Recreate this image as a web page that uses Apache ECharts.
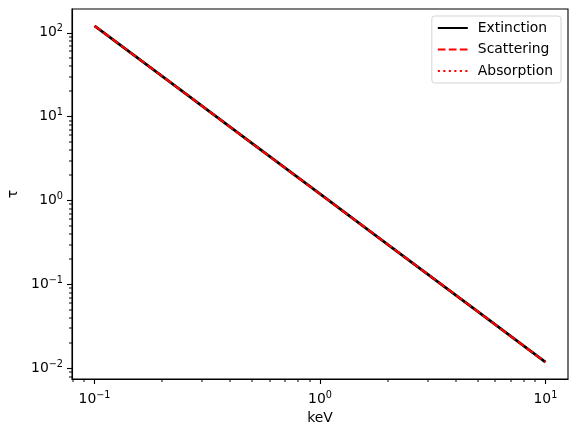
<!DOCTYPE html>
<html>
<head>
<meta charset="utf-8">
<script src="https://cdn.jsdelivr.net/npm/echarts@6/dist/echarts.min.js"></script>
<style>
  html, body { margin: 0; padding: 0; background: #fff; }
  #main { width: 578px; height: 435px; }
</style>
</head>
<body>
<div id="main"></div>
<script>
// values (tau vs photon energy)
var energy = [0.1, 0.2, 0.5, 1, 2, 5, 10];
var extinction = [121, 30.3, 4.8, 1.2, 0.3, 0.048, 0.0119];
var scattering = [121, 30.3, 4.8, 1.2, 0.3, 0.048, 0.0119];
var absorption = []; // not visible on the plot

var xMajor = [0.1, 1, 10];
var xMinor = [0.08, 0.09, 0.2, 0.3, 0.4, 0.5, 0.6, 0.7, 0.8, 0.9, 2, 3, 4, 5, 6, 7, 8, 9];
var yMajor = [0.01, 0.1, 1, 10, 100];
var yMinor = [0.008, 0.009,
  0.02, 0.03, 0.04, 0.05, 0.06, 0.07, 0.08, 0.09,
  0.2, 0.3, 0.4, 0.5, 0.6, 0.7, 0.8, 0.9,
  2, 3, 4, 5, 6, 7, 8, 9,
  20, 30, 40, 50, 60, 70, 80, 90];

var xRange = [Math.pow(10, -1.1), Math.pow(10, 1.1)];
var yRange = [Math.pow(10, -2.125), Math.pow(10, 2.283)];

var font = 'DejaVu Sans';
var fs = 13.9;

function pow10Label(v) {
  var e = Math.round(Math.log10(v));
  return '{b|10}{s|' + (e < 0 ? '\u2212' : '') + Math.abs(e) + '}';
}
var rich = {
  b: { fontSize: fs, fontFamily: font, color: '#000' },
  s: { fontSize: 9.7, fontFamily: font, color: '#000', padding: [0, 0, 8, 0] }
};

function pair(xs, ys) {
  return xs.map(function (x, i) { return [x, ys[i]]; });
}

// minor ticks: small outward marks placed through the axis scales
function minorTicks(onX) {
  return function (params, api) {
    var rect = params.coordSys;
    var p = api.coord([api.value(0), api.value(1)]);
    var shape;
    if (onX) {
      shape = { x: Math.round(p[0]) - 0.5, y: rect.y + rect.height, width: 1, height: 3 };
    } else {
      shape = { x: rect.x - 3, y: Math.round(p[1]) - 0.5, width: 3, height: 1 };
    }
    return { type: 'rect', shape: shape, style: { fill: '#000' } };
  };
}

var myChart = echarts.init(document.getElementById('main'));

var option = {
  animation: false,
  backgroundColor: '#fff',
  grid: {
    left: 72, right: 10, top: 9, bottom: 56,
    outerBoundsMode: 'none',
    show: true, borderColor: '#000', borderWidth: 1.1, backgroundColor: 'transparent'
  },
  legend: {
    orient: 'vertical',
    right: 17, top: 16,
    align: 'left',
    itemWidth: 30, itemHeight: 10, itemGap: 7.5,
    padding: [5, 8, 5, 5],
    borderColor: '#d4d4d4', borderWidth: 1, borderRadius: 3,
    itemStyle: { opacity: 0 },
    textStyle: { fontFamily: font, fontSize: fs, color: '#000', padding: [0, 0, 0, 5] },
    data: ['Extinction', 'Scattering', 'Absorption']
  },
  xAxis: {
    type: 'log', min: xRange[0], max: xRange[1],
    name: 'keV', nameLocation: 'middle', nameGap: 29,
    nameTextStyle: { fontFamily: font, fontSize: fs, color: '#000' },
    axisLine: { lineStyle: { color: '#000', width: 1.1 } },
    axisTick: { customValues: xMajor, length: 5, lineStyle: { color: '#000', width: 1.1 } },
    axisLabel: { customValues: xMajor, formatter: pow10Label, rich: rich, margin: 11 },
    splitLine: { show: false }, minorTick: { show: false }
  },
  yAxis: {
    type: 'log', min: yRange[0], max: yRange[1],
    name: '\u03c4', nameLocation: 'middle', nameGap: 50, nameRotate: 90,
    nameTextStyle: { fontFamily: font, fontSize: fs, color: '#000' },
    axisLine: { lineStyle: { color: '#000', width: 1.1 } },
    axisTick: { customValues: yMajor, length: 5, lineStyle: { color: '#000', width: 1.1 } },
    axisLabel: { customValues: yMajor, formatter: pow10Label, rich: rich, margin: 9 },
    splitLine: { show: false }, minorTick: { show: false }
  },
  series: [{
    name: 'Extinction', type: 'line', symbol: 'none',
    lineStyle: { color: '#000', width: 2.8 }, itemStyle: { color: '#000' },
    data: pair(energy, extinction)
  }, {
    name: 'Scattering', type: 'line', symbol: 'none',
    lineStyle: { color: '#ff0000', width: 2.1, type: [7.7, 3.3] }, itemStyle: { color: '#ff0000' },
    data: pair(energy, scattering)
  }, {
    name: 'Absorption', type: 'line', symbol: 'none',
    lineStyle: { color: '#ff0000', width: 2.1, type: [2.1, 3.4] }, itemStyle: { color: '#ff0000' },
    data: absorption
  }, {
    type: 'custom', silent: true, clip: false, z: 5,
    renderItem: minorTicks(true),
    data: xMinor.map(function (v) { return [v, 1]; })
  }, {
    type: 'custom', silent: true, clip: false, z: 5,
    renderItem: minorTicks(false),
    data: yMinor.map(function (v) { return [1, v]; })
  }]
};
myChart.setOption(option);
</script>
</body>
</html>
